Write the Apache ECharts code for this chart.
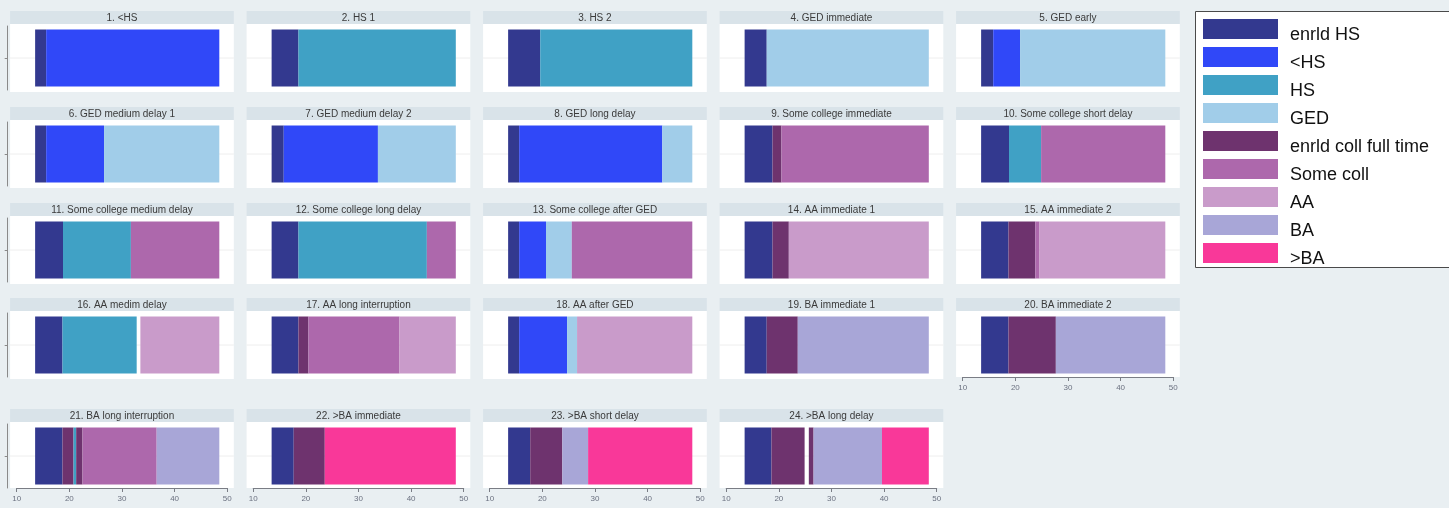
<!DOCTYPE html>
<html>
<head>
<meta charset="utf-8">
<script src="https://cdn.jsdelivr.net/npm/echarts@6/dist/echarts.min.js"></script>
<style>
  html, body { margin: 0; padding: 0; background: #e9eff2; }
  #chart { width: 1449px; height: 508px; }
</style>
</head>
<body>
<div id="chart"></div>
<script>
// Education states, in legend order
const states = ['enrld HS', '<HS', 'HS', 'GED', 'enrld coll full time', 'Some coll', 'AA', 'BA', '>BA'];

// Sequence cluster titles
const panelTitles = [
  '1. <HS', '2. HS 1', '3. HS 2', '4. GED immediate', '5. GED early',
  '6. GED medium delay 1', '7. GED medium delay 2', '8. GED long delay', '9. Some college immediate', '10. Some college short delay',
  '11. Some college medium delay', '12. Some college long delay', '13. Some college after GED', '14. AA immediate 1', '15. AA immediate 2',
  '16. AA medim delay', '17. AA long interruption', '18. AA after GED', '19. BA immediate 1', '20. BA immediate 2',
  '21. BA long interruption', '22. >BA immediate', '23. >BA short delay', '24. >BA long delay'
];

// Age at which every sequence begins
const startAge = 13.5;

// State of each spell (index into states, -1 = missing)
const panelStates = [
  [0, 1], [0, 2], [0, 2], [0, 3], [0, 1, 3],
  [0, 1, 3], [0, 1, 3], [0, 1, 3], [0, 4, 5], [0, 2, 5],
  [0, 2, 5], [0, 2, 5], [0, 1, 3, 5], [0, 4, 6], [0, 4, 5, 6],
  [0, 2, -1, 6], [0, 4, 5, 6], [0, 1, 3, 6], [0, 4, 7], [0, 4, 7],
  [0, 4, 2, 4, 5, 7], [0, 4, 8], [0, 4, 7, 8], [0, 4, -1, 4, 7, 8]
];

// Age at which each spell ends
const panelEnds = [
  [15.6, 48.5], [18.6, 48.5], [19.6, 48.5], [17.7, 48.5], [15.8, 20.9, 48.5],
  [15.6, 26.6, 48.5], [15.8, 33.7, 48.5], [15.6, 42.8, 48.5], [18.8, 20.5, 48.5], [18.8, 24.9, 48.5],
  [18.8, 31.7, 48.5], [18.6, 43.0, 48.5], [15.6, 20.7, 25.6, 48.5], [18.8, 21.9, 48.5], [18.7, 23.8, 24.6, 48.5],
  [18.7, 32.8, 33.5, 48.5], [18.6, 20.5, 37.8, 48.5], [15.6, 24.7, 26.6, 48.5], [17.7, 23.6, 48.5], [18.7, 27.7, 48.5],
  [18.7, 20.8, 21.3, 22.5, 36.6, 48.5], [17.7, 23.6, 48.5], [17.7, 23.8, 28.7, 48.5], [18.6, 24.9, 25.7, 26.6, 39.6, 48.5]
];

// Age axis ticks
const xTicks = [10, 20, 30, 40, 50];

// Colours of the states
const stateColors = ['#33398f', '#3048f8', '#40a1c5', '#a1cde9', '#6e336e', '#ad68ac', '#c99bca', '#a8a6d7', '#f93899'];

// Panel layout
const colLeft = [16.7, 253.2, 489.7, 726.2, 962.7];
const axisWidth = 210.5;
const rowTop = [24, 120, 216, 311, 422];
const plotPad = 6.6;
const plotHeight = 68;
const stripHeight = 13;
const barWidth = 57;
const fontFamily = '"Liberation Sans", Arial, Helvetica, sans-serif';

const grids = [], xAxes = [], yAxes = [], series = [], graphics = [];

panelTitles.forEach((title, i) => {
  const row = Math.floor(i / 5), col = i % 5;
  const left = colLeft[col], top = rowTop[row];
  const showX = row === 4 || i === 19;

  grids.push({ left: left, top: top + 2, width: axisWidth, height: plotHeight - 4 });

  xAxes.push({
    gridIndex: i, type: 'value', min: xTicks[0], max: xTicks[xTicks.length - 1], interval: 10,
    show: showX,
    axisLine: { show: true, lineStyle: { color: '#7a7d85', width: 1 } },
    axisTick: { show: true, length: 4, lineStyle: { color: '#7a7d85' } },
    axisLabel: { show: true, fontSize: 8, color: '#6b7180', margin: 7, fontFamily: fontFamily },
    splitLine: { show: false }
  });

  yAxes.push({
    gridIndex: i, type: 'category', data: [''],
    show: col === 0, offset: 9,
    axisLine: { show: true, lineStyle: { color: '#8a8a8a', width: 1 } },
    axisTick: { show: true, length: 3, alignWithLabel: true, lineStyle: { color: '#8a8a8a' } },
    axisLabel: { show: false },
    splitLine: { show: false }
  });

  // plot region, title strip and centre grid line
  graphics.push({
    type: 'rect', z: -2, silent: true,
    shape: { x: left - plotPad, y: top, width: axisWidth + 2 * plotPad, height: plotHeight - (showX ? 2 : 0) },
    style: { fill: '#ffffff' }
  });
  graphics.push({
    type: 'rect', z: -2, silent: true,
    shape: { x: left - plotPad, y: top - stripHeight, width: axisWidth + 2 * plotPad, height: stripHeight },
    style: { fill: '#d9e3e9' }
  });
  graphics.push({
    type: 'line', z: -1, silent: true,
    shape: { x1: left - plotPad, y1: top + plotHeight / 2, x2: left + axisWidth + plotPad, y2: top + plotHeight / 2 },
    style: { stroke: '#eeeeee', lineWidth: 1 }
  });
  graphics.push({
    type: 'text', z: 1, silent: true,
    x: left + axisWidth / 2, y: top - stripHeight / 2 + 0.5,
    style: { text: title, align: 'center', verticalAlign: 'middle', fontSize: 10, fill: '#3a3a3a', fontFamily: fontFamily }
  });

  // invisible lead-in up to the start age
  series.push({
    type: 'bar', xAxisIndex: i, yAxisIndex: i, stack: 'p' + i, barWidth: barWidth,
    data: [startAge], itemStyle: { color: 'rgba(0,0,0,0)' }, silent: true
  });

  let prev = startAge;
  panelStates[i].forEach((s, k) => {
    const end = panelEnds[i][k];
    series.push({
      type: 'bar', xAxisIndex: i, yAxisIndex: i, stack: 'p' + i, barWidth: barWidth,
      name: s >= 0 ? states[s] : '',
      data: [+(end - prev).toFixed(3)],
      itemStyle: { color: s >= 0 ? stateColors[s] : 'rgba(0,0,0,0)' },
      silent: s < 0
    });
    prev = end;
  });
});

// legend frame
graphics.push({
  type: 'rect', z: -1, silent: true,
  shape: { x: 1195.5, y: 11.5, width: 270, height: 256 },
  style: { fill: '#ffffff', stroke: '#4a4a4a', lineWidth: 1 }
});

const chart = echarts.init(document.getElementById('chart'), null, { renderer: 'canvas' });
chart.setOption({
  animation: false,
  backgroundColor: '#e9eff2',
  grid: grids,
  xAxis: xAxes,
  yAxis: yAxes,
  series: series,
  graphic: { elements: graphics },
  legend: {
    data: states,
    orient: 'vertical',
    left: 1203, top: 19,
    itemWidth: 75, itemHeight: 20, itemGap: 3,
    icon: 'rect',
    padding: 0,
    selectedMode: false,
    formatter: '{t|{name}}',
    textStyle: {
      fontSize: 18, color: '#111', fontFamily: fontFamily,
      rich: { t: { fontSize: 18, color: '#111', fontFamily: fontFamily, padding: [12, 0, 0, 7] } }
    }
  }
});
</script>
</body>
</html>
